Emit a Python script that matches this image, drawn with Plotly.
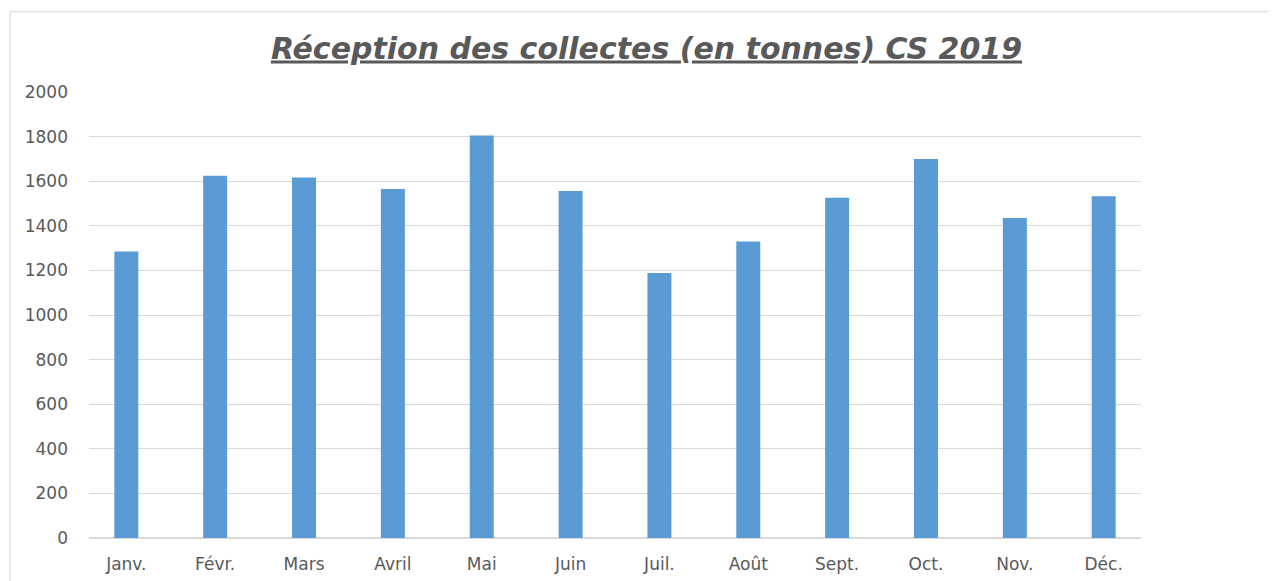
import plotly.graph_objects as go

months = ["Janv.", "Févr.", "Mars", "Avril", "Mai", "Juin",
          "Juil.", "Août", "Sept.", "Oct.", "Nov.", "Déc."]
tonnes = [1285, 1625, 1617, 1565, 1805, 1556,
          1188, 1330, 1526, 1700, 1435, 1532]
y_ticks = [0, 200, 400, 600, 800, 1000, 1200, 1400, 1600, 1800, 2000]

W, H = 1268, 573  # page body adds an 8px offset

fig = go.Figure(go.Bar(x=months, y=tonnes, marker_color="#5b9bd5",
                       marker_line_width=0))

fig.update_layout(
    width=W, height=H,
    paper_bgcolor="white", plot_bgcolor="white",
    margin=dict(l=81, r=135, t=84, b=43),
    bargap=0.73,
    showlegend=False,
    title=dict(text="<b><i><u>Réception des collectes (en tonnes) CS 2019</u></i></b>",
               x=638.5 / W, xanchor="center", xref="container",
               y=1 - 40 / H, yanchor="middle", yref="container",
               font=dict(family="DejaVu Sans", size=30, color="#595959")),
    font=dict(family="DejaVu Sans", size=17, color="#595959"),
    shapes=[dict(type="rect", xref="paper", yref="paper",
                 x0=-0.0751, x1=1.1227, y0=-0.2, y1=1.18,
                 line=dict(color="#d9d9d9", width=1), layer="below")],
)
fig.update_yaxes(range=[0, 2000], tickvals=y_ticks, showgrid=True,
                 gridcolor="#d9d9d9", gridwidth=1, zeroline=True,
                 zerolinecolor="#d9d9d9", showline=False, ticks="",
                 ticklabelstandoff=20, automargin=False,
                 tickfont=dict(family="DejaVu Sans", size=17, color="#595959"))
fig.update_xaxes(range=[-0.42, 11.42], showgrid=False, showline=False,
                 ticks="", ticklabelstandoff=14, automargin=False,
                 tickfont=dict(family="DejaVu Sans", size=17, color="#595959"))

fig.write_html("out.html")
